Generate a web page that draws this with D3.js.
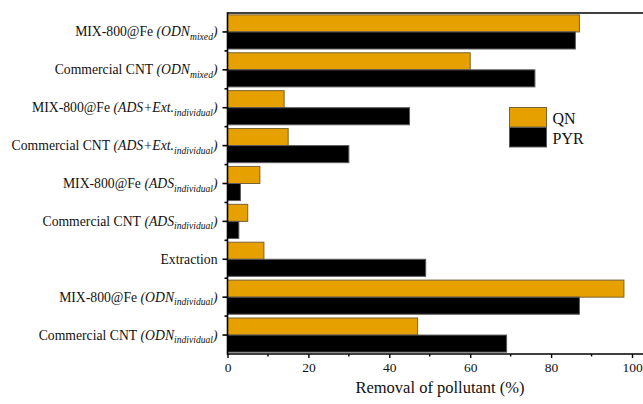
<!DOCTYPE html>
<html>
<head>
<meta charset="utf-8">
<script src="https://cdn.jsdelivr.net/npm/d3@7"></script>
<style>
  html, body { margin: 0; padding: 0; background: #fff; }
  svg { display: block; }
  svg text { font-family: "Liberation Serif", "Times New Roman", "DejaVu Serif", serif; }
</style>
</head>
<body>
<svg id="chart" width="643" height="404"></svg>
<script>
// Category labels, top to bottom: material, process (italic) and regime (subscript)
const materials = ["MIX-800@Fe", "Commercial CNT", "MIX-800@Fe", "Commercial CNT", "MIX-800@Fe", "Commercial CNT", "Extraction", "MIX-800@Fe", "Commercial CNT"];
const processes = ["ODN", "ODN", "ADS+Ext.", "ADS+Ext.", "ADS", "ADS", "", "ODN", "ODN"];
const regimes   = ["mixed", "mixed", "individual", "individual", "individual", "individual", "", "individual", "individual"];

// Removal (%) for each pollutant, same order as the categories
const seriesNames = ["QN", "PYR"];
const qnValues  = [87, 60, 14, 15, 8, 5, 9, 98, 47];
const pyrValues = [86, 76, 45, 30, 3.2, 2.8, 49, 87, 69];

const xTicks = [0, 20, 40, 60, 80, 100];
const xMinorTicks = [10, 30, 50, 70, 90];

const colors = { QN: "#E6A100", PYR: "#000000" };
const strokes = { QN: "#7a6330", PYR: "#5a5a5a" };
const SERIF = "Liberation Serif";

const svg = d3.select("#chart");
const W = 643;
const plot = { left: 227.5, right: 632, top: 13, bottom: 354 };

const ids = d3.range(materials.length);
const y = d3.scaleBand().domain(ids).range([plot.top, plot.bottom]).padding(0);
const ySub = d3.scaleBand().domain(seriesNames).range([0, y.bandwidth()]).paddingInner(0).paddingOuter(0.11);
const x = d3.scaleLinear().domain([0, 100]).range([plot.left, plot.right]);

const rows = ids.map(i => ({ i, QN: qnValues[i], PYR: pyrValues[i] }));

// Bars
const groups = svg.append("g").selectAll("g").data(rows).join("g")
  .attr("transform", d => `translate(0,${y(d.i)})`);
groups.selectAll("rect")
  .data(d => seriesNames.map(s => ({ s, v: d[s] })))
  .join("rect")
  .attr("x", x(0))
  .attr("y", d => ySub(d.s))
  .attr("width", d => x(d.v) - x(0))
  .attr("height", ySub.bandwidth())
  .attr("fill", d => colors[d.s])
  .attr("stroke", d => strokes[d.s])
  .attr("stroke-width", 1);

// Frame: top line and bottom axis run on to the right edge
svg.append("line").attr("x1", plot.left).attr("x2", W).attr("y1", plot.top).attr("y2", plot.top)
  .attr("stroke", "#000").attr("stroke-width", 1.6);
svg.append("line").attr("x1", plot.left).attr("x2", W).attr("y1", plot.bottom).attr("y2", plot.bottom)
  .attr("stroke", "#000").attr("stroke-width", 1.6);
svg.append("line").attr("x1", plot.left).attr("x2", plot.left).attr("y1", plot.top - 0.8).attr("y2", plot.bottom + 0.8)
  .attr("stroke", "#000").attr("stroke-width", 1.6);

// X axis
const xAxis = svg.append("g").attr("transform", `translate(0,${plot.bottom})`)
  .call(d3.axisBottom(x).tickValues(xTicks).tickSize(4).tickPadding(4).tickFormat(d3.format("d")))
  .attr("font-family", SERIF);
xAxis.select(".domain").remove();
xAxis.selectAll(".tick line").attr("stroke-width", 1.4);
xAxis.selectAll(".tick text").attr("font-size", 13.5).attr("font-family", SERIF).attr("fill", "#111");
svg.append("g").selectAll("line").data(xMinorTicks).join("line")
  .attr("x1", d => x(d)).attr("x2", d => x(d))
  .attr("y1", plot.bottom).attr("y2", plot.bottom + 2.5)
  .attr("stroke", "#000").attr("stroke-width", 1.4);

svg.append("text")
  .attr("x", 440).attr("y", 393)
  .attr("text-anchor", "middle")
  .attr("font-family", SERIF)
  .attr("font-size", 16.5)
  .attr("fill", "#111")
  .text("Removal of pollutant (%)");

// Y axis: major ticks at category centres, minor ticks at band edges
const yAxis = svg.append("g").attr("transform", `translate(${plot.left},0)`)
  .call(d3.axisLeft(y).tickSize(5).tickFormat(""));
yAxis.select(".domain").remove();
yAxis.selectAll(".tick line").attr("stroke-width", 1.6);
const edges = ids.map(i => y(i)).concat([plot.bottom]).slice(1, -1);
svg.append("g").selectAll("line").data(edges).join("line")
  .attr("x1", plot.left - 3).attr("x2", plot.left)
  .attr("y1", d => d).attr("y2", d => d)
  .attr("stroke", "#000").attr("stroke-width", 1.6);

// Category labels with italic process name and subscript regime
const labels = svg.append("g").selectAll("text").data(ids).join("text")
  .attr("x", plot.left - 10)
  .attr("y", i => y(i) + y.bandwidth() / 2 + 4.5)
  .attr("text-anchor", "end")
  .attr("font-family", SERIF)
  .attr("font-size", 13.7)
  .attr("fill", "#111");
labels.each(function(i) {
  const t = d3.select(this);
  t.append("tspan").text(materials[i]);
  if (processes[i]) {
    t.append("tspan").attr("font-style", "italic").text(" (" + processes[i]);
    t.append("tspan").attr("font-style", "italic").attr("font-size", 9.6).attr("dy", 3.5).text(regimes[i]);
    t.append("tspan").attr("font-style", "italic").attr("dy", -3.5).text(")");
  }
});

// Legend
const legend = svg.append("g").attr("transform", "translate(509.5,107.5)");
seriesNames.forEach((s, k) => {
  legend.append("rect")
    .attr("x", 0).attr("y", k * 20)
    .attr("width", 37).attr("height", 19.5)
    .attr("fill", colors[s]).attr("stroke", strokes[s]).attr("stroke-width", 1);
  legend.append("text")
    .attr("x", 43).attr("y", k * 20 + 16)
    .attr("font-family", SERIF)
    .attr("font-size", 16)
    .attr("fill", "#111")
    .text(s);
});
</script>
</body>
</html>
